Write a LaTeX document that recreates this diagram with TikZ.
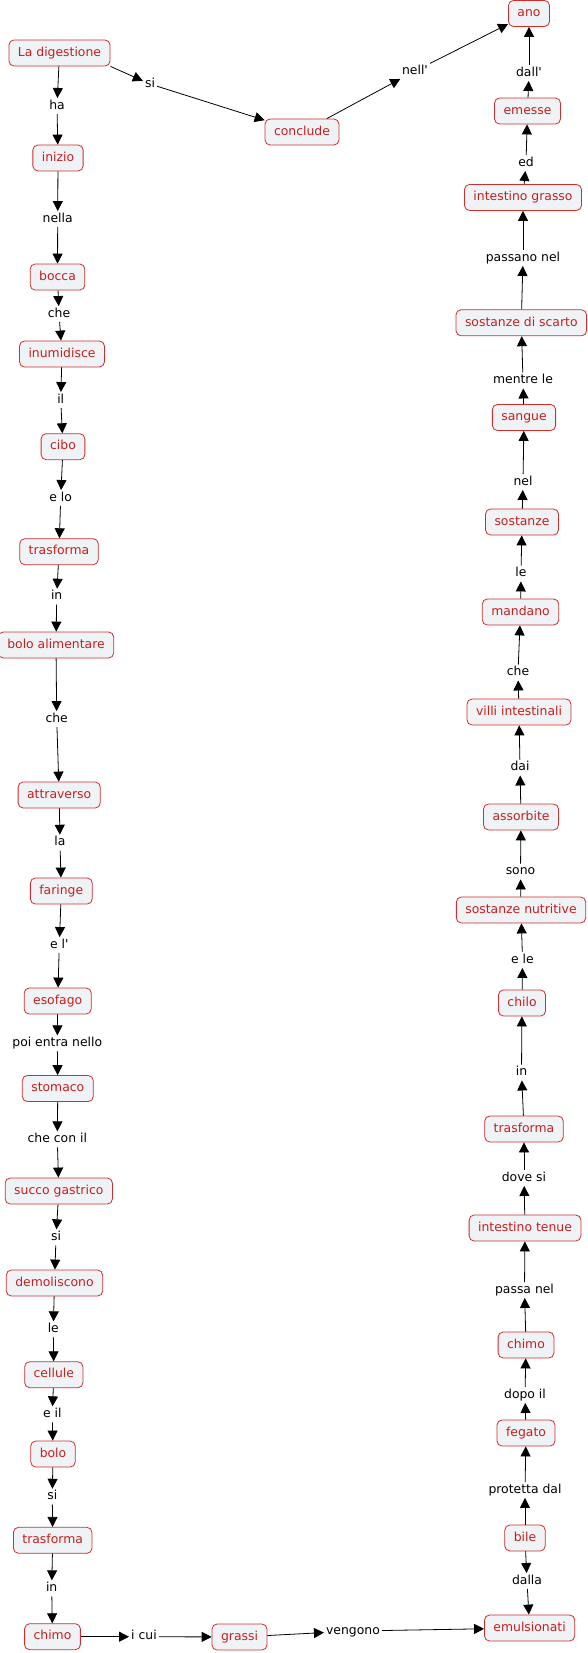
\documentclass[tikz,border=0pt]{standalone}
\usepackage{fontspec}
\setmainfont{DejaVu Sans}
\usetikzlibrary{arrows.meta}
\definecolor{cred}{RGB}{200,30,30}
\definecolor{cborder}{RGB}{208,45,45}
\definecolor{cfill}{RGB}{239,243,245}
\newcommand{\apo}{\textquotesingle}
\begin{document}
\begin{tikzpicture}[x=1pt,y=-1pt,
  concept/.style={draw=cborder, fill=cfill, text=cred, rounded corners=5pt, line width=0.8pt,
    inner xsep=9pt, inner ysep=0pt, minimum height=26pt, text height=9pt, text depth=2.5pt,
    font=\fontsize{12.4}{14}\selectfont},
  lab/.style={inner sep=2pt, text height=9pt, text depth=2.5pt, text=black,
    font=\fontsize{12.4}{14}\selectfont},
  conn/.style={draw=black, line width=0.8pt, -{Triangle[length=10pt,width=10pt]}}]
\useasboundingbox (0,0) rectangle (588,1653);
% left column
\node[concept] (ld) at (59.5,53) {La digestione};
\node[lab] (lha) at (57,106) {ha};
\node[concept] (inizio) at (58,158) {inizio};
\node[lab] (lnella) at (57.7,219) {nella};
\node[concept] (bocca) at (57.5,277) {bocca};
\node[lab] (lcheA) at (59,314) {che};
\node[concept] (inumidisce) at (62,354) {inumidisce};
\node[lab] (lil) at (60.7,400) {il};
\node[concept] (cibo) at (63,446.7) {cibo};
\node[lab] (lelo) at (60.7,498) {e lo};
\node[concept] (trA) at (59,551.7) {trasforma};
\node[lab] (linA) at (56.7,596.7) {in};
\node[concept] (boloal) at (56,645) {bolo alimentare};
\node[lab] (lcheB) at (56.7,719) {che};
\node[concept] (attraverso) at (59.2,795) {attraverso};
\node[lab] (lla) at (60,842.7) {la};
\node[concept] (faringe) at (61.3,891) {faringe};
\node[lab] (lel) at (59.3,945) {e l\apo};
\node[concept] (esofago) at (57.7,1001) {esofago};
\node[lab] (lpoi) at (57.3,1043.3) {poi entra nello};
\node[concept] (stomaco) at (57.8,1088.5) {stomaco};
\node[lab] (lchecon) at (57.3,1139.3) {che con il};
\node[concept] (succo) at (58.8,1191) {succo gastrico};
\node[lab] (lsiA) at (56,1237.3) {si};
\node[concept] (demol) at (54.5,1283) {demoliscono};
\node[lab] (lleA) at (53.3,1329.3) {le};
\node[concept] (cellule) at (53.8,1374.7) {cellule};
\node[lab] (leil) at (52.3,1414.3) {e il};
\node[concept] (bolo) at (53,1454) {bolo};
\node[lab] (lsiB) at (52.3,1496.7) {si};
\node[concept] (trB) at (52.7,1540.3) {trasforma};
\node[lab] (linB) at (51.7,1588.3) {in};
\node[concept] (chimoA) at (52.5,1636.7) {chimo};
% bottom row
\node[lab] (licui) at (144,1636.7) {i cui};
\node[concept] (grassi) at (239.5,1637) {grassi};
\node[lab] (lvengono) at (353,1631) {vengono};
\node[concept] (emuls) at (529.6,1628) {emulsionati};
% right column
\node[lab] (ldalla) at (527,1581) {dalla};
\node[concept] (bile) at (525,1538) {bile};
\node[lab] (lprotetta) at (525,1490) {protetta dal};
\node[concept] (fegato) at (526,1433) {fegato};
\node[lab] (ldopo) at (525,1395) {dopo il};
\node[concept] (chimoB) at (526,1345) {chimo};
\node[lab] (lpassa) at (524.5,1290) {passa nel};
\node[concept] (inttenue) at (525,1228) {intestino tenue};
\node[lab] (ldove) at (524,1178) {dove si};
\node[concept] (trC) at (524,1129) {trasforma};
\node[lab] (linC) at (521.5,1072.5) {in};
\node[concept] (chilo) at (522,1003) {chilo};
\node[lab] (lele) at (522.5,960) {e le};
\node[concept] (sostnutr) at (521,910) {sostanze nutritive};
\node[lab] (lsono) at (520.5,871.5) {sono};
\node[concept] (assorbite) at (521,817) {assorbite};
\node[lab] (ldai) at (520,767.5) {dai};
\node[concept] (villi) at (519,712) {villi intestinali};
\node[lab] (lcheC) at (518,672.5) {che};
\node[concept] (mandano) at (520.5,612) {mandano};
\node[lab] (lleB) at (521,573.5) {le};
\node[concept] (sostanze) at (522,522) {sostanze};
\node[lab] (lnel) at (523,482) {nel};
\node[concept] (sangue) at (524,417.5) {sangue};
\node[lab] (lmentre) at (523,380.5) {mentre le};
\node[concept] (sostscarto) at (521.3,322.8) {sostanze di scarto};
\node[lab] (lpassano) at (523,258) {passano nel};
\node[concept] (intgrasso) at (523,197.5) {intestino grasso};
\node[lab] (led) at (526,163) {ed};
\node[concept] (emesse) at (527.5,111) {emesse};
\node[lab] (ldall) at (529,73) {dall\apo};
\node[concept] (ano) at (529,13.5) {ano};
% top row
\node[lab] (lsi0) at (150,84) {si};
\node[concept] (conclude) at (302,132) {conclude};
\node[lab] (lnell) at (415,71) {nell\apo};
% connectors
\foreach \a/\b in {ld/lha, lha/inizio, inizio/lnella, lnella/bocca, bocca/lcheA, lcheA/inumidisce,
  inumidisce/lil, lil/cibo, cibo/lelo, lelo/trA, trA/linA, linA/boloal, boloal/lcheB, lcheB/attraverso,
  attraverso/lla, lla/faringe, faringe/lel, lel/esofago, esofago/lpoi, lpoi/stomaco, stomaco/lchecon,
  lchecon/succo, succo/lsiA, lsiA/demol, demol/lleA, lleA/cellule, cellule/leil, leil/bolo, bolo/lsiB,
  lsiB/trB, trB/linB, linB/chimoA, chimoA/licui, licui/grassi, grassi/lvengono, lvengono/emuls,
  bile/ldalla, ldalla/emuls,
  bile/lprotetta, lprotetta/fegato, fegato/ldopo, ldopo/chimoB, chimoB/lpassa, lpassa/inttenue,
  inttenue/ldove, ldove/trC, trC/linC, linC/chilo, chilo/lele, lele/sostnutr, sostnutr/lsono,
  lsono/assorbite, assorbite/ldai, ldai/villi, villi/lcheC, lcheC/mandano, mandano/lleB, lleB/sostanze,
  sostanze/lnel, lnel/sangue, sangue/lmentre, lmentre/sostscarto, sostscarto/lpassano, lpassano/intgrasso,
  intgrasso/led, led/emesse, emesse/ldall, ldall/ano,
  lsi0/conclude, conclude/lnell, lnell/ano}
  \draw[conn] (\a) -- (\b);
\draw[conn] (ld.south east) -- (lsi0);
\end{tikzpicture}
\end{document}
